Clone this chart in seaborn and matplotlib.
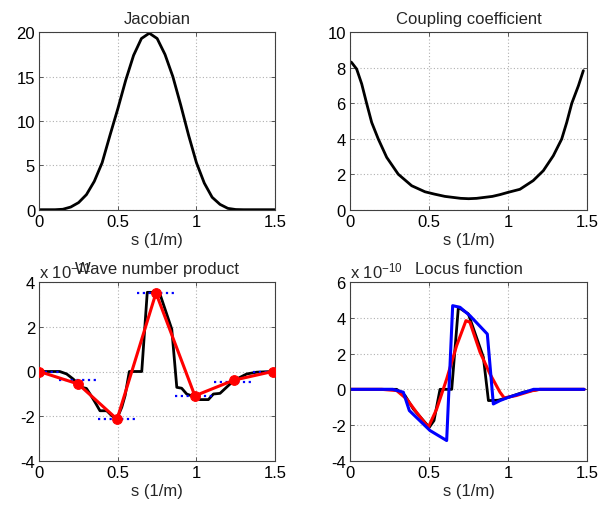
import numpy as np
import pandas as pd
import matplotlib
matplotlib.use("Agg")
import matplotlib.pyplot as plt
import seaborn as sns

# ---------------- data ----------------
jac_s = [0, 0.05, 0.1, 0.15, 0.2, 0.25, 0.3, 0.35, 0.4, 0.45, 0.5, 0.55, 0.6, 0.65, 0.7,
         0.75, 0.8, 0.85, 0.9, 0.95, 1.0, 1.05, 1.1, 1.15, 1.2, 1.25, 1.3, 1.35, 1.4, 1.45, 1.5]
jac_v = [0, 0, 0, 0.05, 0.3, 0.8, 1.7, 3.2, 5.3, 8.4, 11.4, 14.6, 17.4, 19.3, 19.9,
         19.3, 17.5, 15.0, 11.8, 8.4, 5.3, 3.0, 1.4, 0.6, 0.15, 0.02, 0, 0, 0, 0, 0]

coup_s = [0, 0.01, 0.042, 0.074, 0.105, 0.137, 0.179, 0.232, 0.305, 0.39, 0.474, 0.533,
          0.6, 0.7, 0.75, 0.8, 0.9, 0.948, 1.0, 1.074, 1.158, 1.222, 1.285, 1.338, 1.37,
          1.402, 1.444, 1.475]
coup_v = [8.35, 8.3, 7.93, 7.09, 6.0, 4.92, 3.98, 2.95, 2.0, 1.35, 1.01, 0.88,
          0.75, 0.64, 0.62, 0.64, 0.75, 0.85, 0.98, 1.15, 1.64, 2.2, 3.04, 3.98, 4.92,
          6.0, 6.99, 7.84]

wave_black_s = [0, 0.13, 0.174, 0.216, 0.27, 0.30, 0.323, 0.355, 0.386, 0.429, 0.461, 0.493,
                0.525, 0.546, 0.573, 0.652, 0.687, 0.735, 0.768, 0.843, 0.875, 0.906, 0.938,
                0.98, 1.023, 1.076, 1.108, 1.15, 1.214, 1.256, 1.32, 1.384, 1.48]
wave_black_v = [0, 0, -0.11, -0.34, -0.71, -0.76, -1.01, -1.38, -1.76, -1.76, -1.98, -2.13,
                -1.6, -1.08, 0, 0, 3.55, 3.55, 3.47, 1.9, -0.71, -0.75, -1.01,
                -1.12, -1.26, -1.26, -1.01, -0.98, -0.56, -0.34, -0.11, -0.03, 0]
wave_red_s = [0, 0.2475, 0.495, 0.7425, 0.99, 1.2375, 1.485]
wave_red_v = [0, -0.56, -2.14, 3.52, -1.09, -0.39, 0]
wave_blue_v = [0, -0.37, -2.13, 3.5, -1.11, -0.46, 0]

locus_black_s = [0, 0.295, 0.348, 0.40, 0.501, 0.531, 0.569, 0.643, 0.685, 0.748, 0.843,
                 0.875, 0.937, 1.0, 1.1, 1.2, 1.48]
locus_black_v = [0, 0, -0.35, -1.1, -2.13, -1.75, 0, 0, 4.6, 4.23, 1.8,
                 -0.63, -0.61, -0.45, -0.15, 0, 0]
locus_red_s = [0, 0.2, 0.295, 0.358, 0.42, 0.495, 0.548, 0.611, 0.674, 0.733, 0.758, 0.822,
               0.885, 0.948, 0.975, 1.05, 1.15, 1.2, 1.48]
locus_red_v = [0, 0, -0.07, -0.54, -1.28, -2.13, -1.1, 0.58, 2.45, 3.85, 3.76, 2.08,
               0.86, -0.16, -0.48, -0.35, -0.08, 0, 0]
locus_blue_s = [0, 0.27, 0.337, 0.375, 0.506, 0.611, 0.649, 0.695, 0.758, 0.868, 0.906,
                0.948, 1.0, 1.117, 1.16, 1.48]
locus_blue_v = [0, 0, -0.16, -1.19, -2.31, -2.87, 4.69, 4.6, 4.13, 3.1, -0.82,
                -0.63, -0.45, -0.13, 0, 0]

titles = ["Jacobian", "Coupling coefficient", "Wave number product", "Locus function"]
xlabel = "s (1/m)"
xticks = [0, 0.5, 1, 1.5]
xticklabels = ["0", "0.5", "1", "1.5"]
yticks_list = [[0, 5, 10, 15, 20], [0, 2, 4, 6, 8, 10], [-4, -2, 0, 2, 4], [-4, -2, 0, 2, 4, 6]]
exponents = [None, None, "x 10$^{-11}$", "x 10$^{-10}$"]

# ---------------- style ----------------
sns.set_theme(style="white")
plt.rcParams["font.family"] = ["Liberation Sans", "DejaVu Sans"]
plt.rcParams["mathtext.fontset"] = "custom"
plt.rcParams["mathtext.rm"] = "Liberation Sans"
plt.rcParams["mathtext.it"] = "Liberation Sans"
plt.rcParams["font.size"] = 12

W, H = 603, 506
fig = plt.figure(figsize=(W / 100, H / 100), dpi=100)
fig.patch.set_facecolor("white")

positions = [
    [39.3 / W, 1 - 210.7 / H, 235.7 / W, 177.4 / H],
    [350 / W, 1 - 210.7 / H, 237.3 / W, 177.4 / H],
    [39.3 / W, 1 - 461.7 / H, 235.7 / W, 178.4 / H],
    [350 / W, 1 - 461.7 / H, 237.3 / W, 178.4 / H],
]
axes = [fig.add_axes(p) for p in positions]

def line(ax, s, v, color, lw=2.0, **kw):
    df = pd.DataFrame({"s": s, "v": v})
    sns.lineplot(data=df, x="s", y="v", ax=ax, color=color, linewidth=lw,
                 sort=False, estimator=None, **kw)

# Jacobian
line(axes[0], jac_s, jac_v, "black")
# Coupling
line(axes[1], coup_s, coup_v, "black")
# Wave number product
ax = axes[2]
line(ax, wave_black_s, wave_black_v, "black")
half = (wave_red_s[1] - wave_red_s[0]) / 2
for c, lev in zip(wave_red_s, wave_blue_v):
    ax.hlines(lev, max(c - half, 0), min(c + half, wave_red_s[-1]), colors="blue",
              linestyles=(0, (1, 1.6)), linewidth=1.6, zorder=3)
line(ax, wave_red_s, wave_red_v, "red", lw=2.2, marker="o", markersize=7,
     markeredgecolor="red", zorder=4)
# Locus function
ax = axes[3]
line(ax, locus_black_s, locus_black_v, "black")
line(ax, locus_red_s, locus_red_v, "red", lw=2.2)
line(ax, locus_blue_s, locus_blue_v, "blue", lw=2.2)

for i, ax in enumerate(axes):
    yt = yticks_list[i]
    ax.set_xlim(0, 1.5)
    ax.set_ylim(yt[0], yt[-1])
    ax.set_xticks(xticks)
    ax.set_xticklabels(xticklabels)
    ax.set_yticks(yt)
    ax.set_yticklabels([str(t) for t in yt])
    ax.set_xlabel(xlabel, fontsize=12, labelpad=2)
    ax.set_ylabel("")
    ax.set_title(titles[i], fontsize=12, pad=7)
    ax.grid(True, color="#b0b0b0", linestyle=(0, (1, 2)), linewidth=0.8)
    ax.set_axisbelow(True)
    for sp in ax.spines.values():
        sp.set_visible(True)
        sp.set_color("#404040")
        sp.set_linewidth(0.8)
    ax.tick_params(direction="in", length=3, width=0.6, colors="#404040",
                   labelcolor="black", labelsize=12, top=True, right=True,
                   pad=3, bottom=True, left=True)
    if exponents[i]:
        ax.text(0, 1.01, exponents[i], transform=ax.transAxes, ha="left", va="bottom",
                fontsize=12)

fig.savefig("out.png", dpi=100, facecolor="white")
